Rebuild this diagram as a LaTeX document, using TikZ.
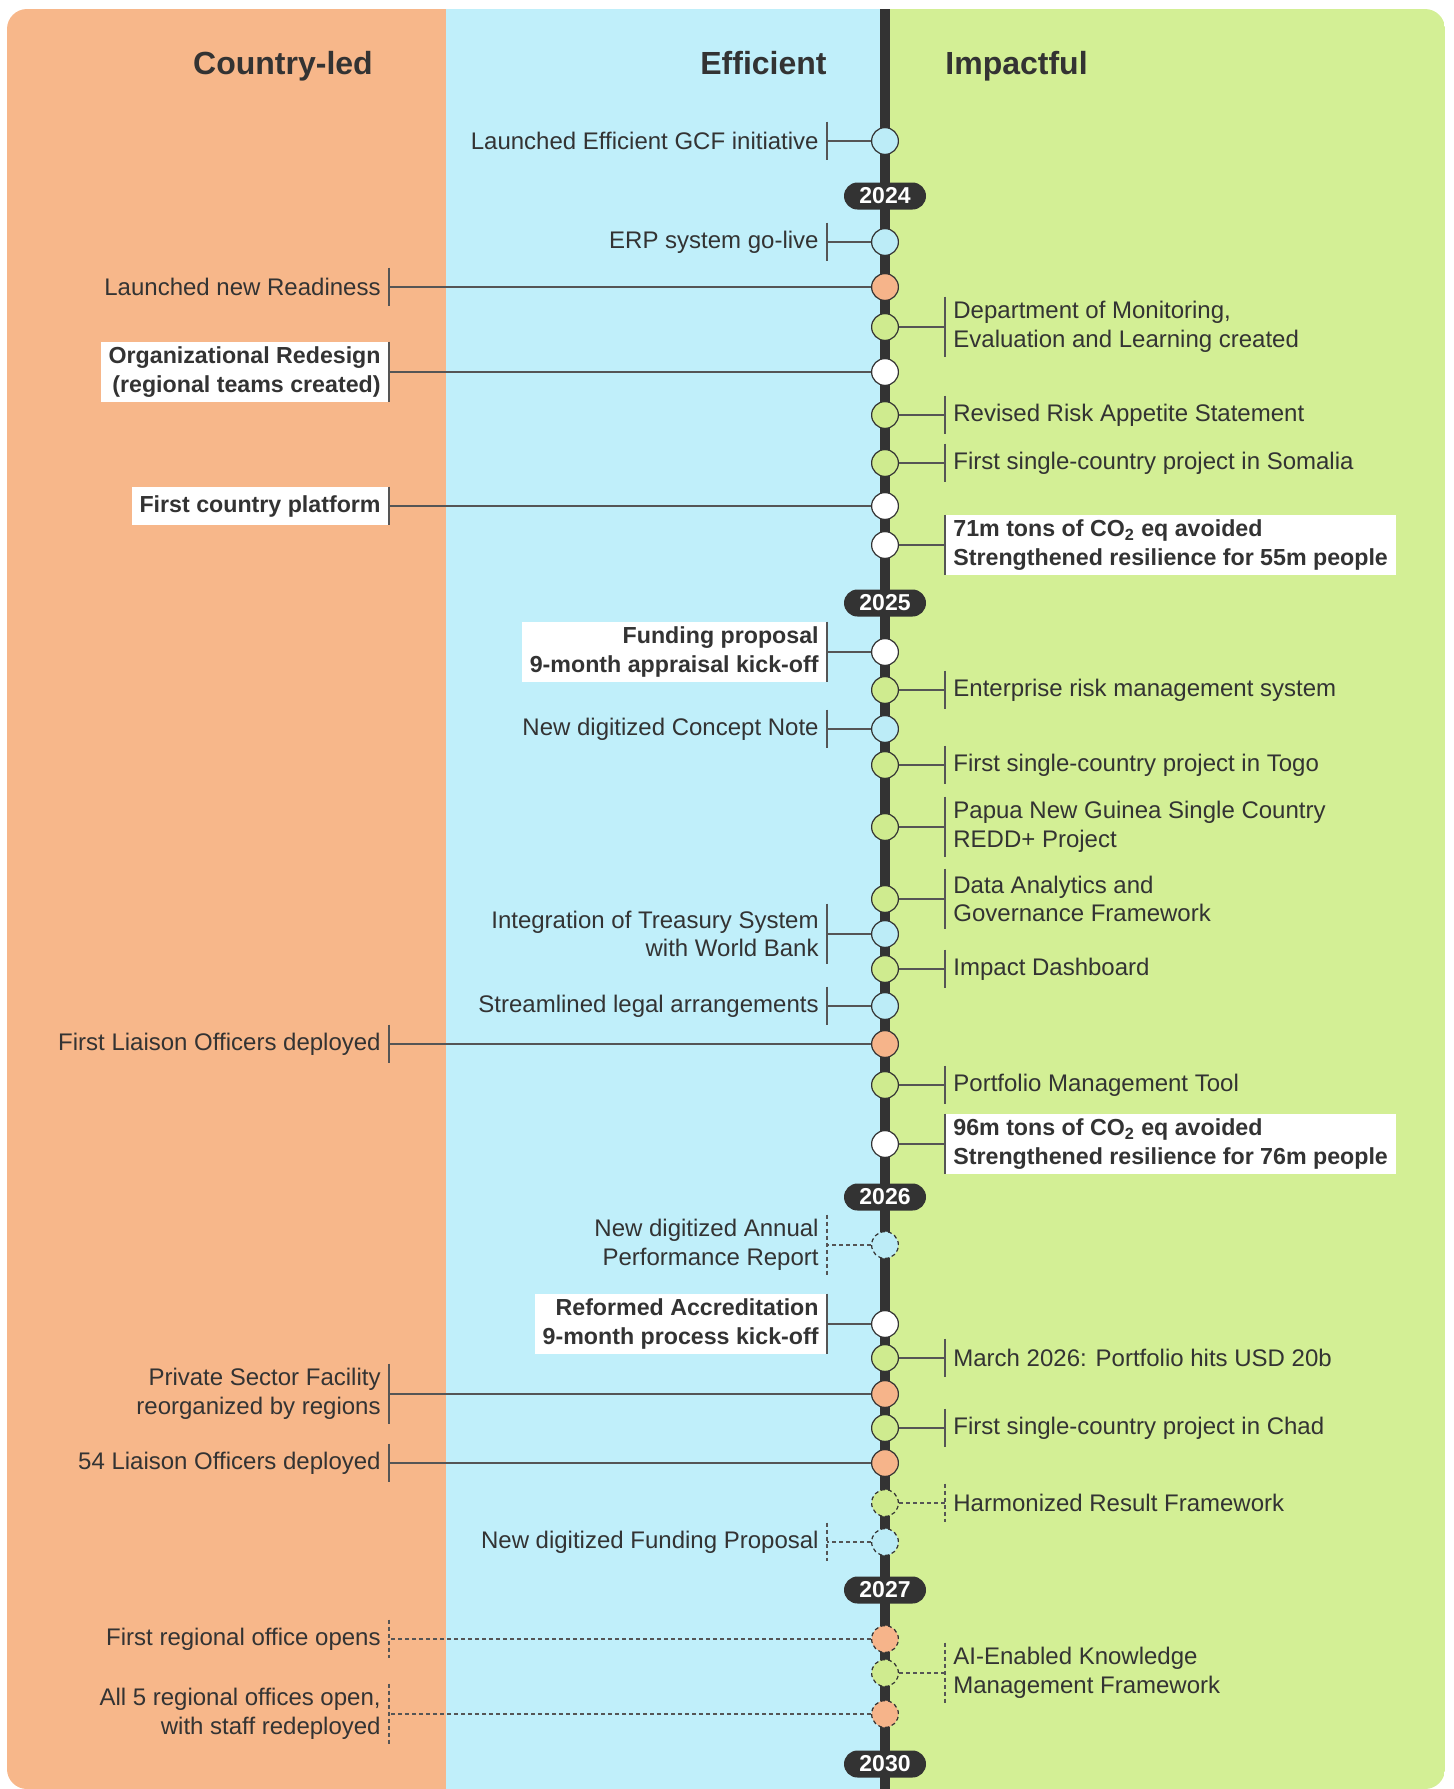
\documentclass[tikz,border=0pt]{standalone}
\usepackage{fontspec}
\setmainfont{Liberation Sans}
\definecolor{orangebg}{HTML}{F7B78A}
\definecolor{bluebg}{HTML}{C0EFFA}
\definecolor{greenbg}{HTML}{D3EF95}
\definecolor{orangedot}{HTML}{F6B48A}
\definecolor{bluedot}{HTML}{BCECF7}
\definecolor{greendot}{HTML}{CFEB8F}
\definecolor{ink}{HTML}{333333}
\definecolor{rule}{HTML}{555555}

\begin{document}
\begin{tikzpicture}[x=0.5pt,y=-0.5pt,
  ev/.style={circle,draw=ink,line width=0.6pt,minimum size=13.4pt,inner sep=0pt},
  con/.style={draw=rule,line width=0.8pt},
  dsh/.style={dash pattern=on 2pt off 1.5pt},
  txt/.style={text=ink,font=\fontsize{12}{14.25}\selectfont,inner xsep=4pt,inner ysep=0pt,minimum height=19pt},
  lt/.style={txt,anchor=east,align=right},
  rt/.style={txt,anchor=west,align=left},
  two/.style={minimum height=30pt},
  box/.style={fill=white,font=\bfseries\fontsize{11.6}{14.25}\selectfont},
  yr/.style={fill=ink,text=white,rounded corners=6.75pt,minimum width=41pt,minimum height=13.5pt,inner sep=0pt,font=\bfseries\fontsize{11.5}{12}\selectfont},
  head/.style={text=ink,font=\bfseries\fontsize{16}{19}\selectfont,inner sep=0pt}]
\useasboundingbox (0,0) rectangle (1453,1789);
\begin{scope}
\clip[rounded corners=10pt] (7,9) rectangle (1445,1789);
\fill[orangebg] (7,9) rectangle (446,1789);
\fill[bluebg] (446,9) rectangle (890,1789);
\fill[greenbg] (890,9) rectangle (1445,1789);
\end{scope}

\node[head,anchor=base] (cled) at (283,74) {Country-led};
\node[head,anchor=base east] (effi) at (827,74) {Efficient};
\node[head,anchor=base west] (impa) at (945,74) {Impactful};

\coordinate (top) at (885,9);
\coordinate (bot) at (885,1789);
\draw[ink,line width=4.7pt] (top) -- (bot);

\node[yr] (y24) at (885,196) {2024};
\node[yr] (y25) at (885,603) {2025};
\node[yr] (y26) at (885,1197) {2026};
\node[yr] (y27) at (885,1590) {2027};
\node[yr] (y30) at (885,1764) {2030};

% 2023--2024
\node[ev,fill=bluedot] (gcf) at (885,141) {};
\node[lt] (gcft) at (827,141) {Launched Efficient GCF initiative};
\draw[con] (gcf) -- (gcft.east) (gcft.north east) -- (gcft.south east);

\node[ev,fill=bluedot] (erp) at (885,242) {};
\node[lt] (erpt) at (827,242) {ERP system go-live};
\draw[con] (erp) -- (erpt.east) (erpt.north east) -- (erpt.south east);

\node[ev,fill=orangedot] (rdns) at (885,287) {};
\node[lt] (rdnst) at (389,287) {Launched new Readiness};
\draw[con] (rdns) -- (rdnst.east) (rdnst.north east) -- (rdnst.south east);

\node[ev,fill=greendot] (mel) at (885,327) {};
\node[rt,two] (melt) at (945,327) {Department of Monitoring,\\Evaluation and Learning created};
\draw[con] (mel) -- (melt.west) (melt.north west) -- (melt.south west);

\node[ev,fill=white] (org) at (885,372) {};
\node[lt,two,box] (orgt) at (389,372) {Organizational Redesign\\(regional teams created)};
\draw[con] (org) -- (orgt.east) (orgt.north east) -- (orgt.south east);

\node[ev,fill=greendot] (risk) at (885,415) {};
\node[rt] (riskt) at (945,415) {Revised Risk Appetite Statement};
\draw[con] (risk) -- (riskt.west) (riskt.north west) -- (riskt.south west);

\node[ev,fill=greendot] (som) at (885,463) {};
\node[rt] (somt) at (945,463) {First single-country project in Somalia};
\draw[con] (som) -- (somt.west) (somt.north west) -- (somt.south west);

\node[ev,fill=white] (cplat) at (885,506) {};
\node[lt,box] (cplatt) at (389,506) {First country platform};
\draw[con] (cplat) -- (cplatt.east) (cplatt.north east) -- (cplatt.south east);

\node[ev,fill=white] (co71) at (885,545) {};
\node[rt,two,box] (co71t) at (945,545) {71m tons of CO\textsubscript{2} eq avoided\\Strengthened resilience for 55m people};
\draw[con] (co71) -- (co71t.west) (co71t.north west) -- (co71t.south west);

% 2025
\node[ev,fill=white] (fp) at (885,652) {};
\node[lt,two,box] (fpt) at (827,652) {Funding proposal\\9-month appraisal kick-off};
\draw[con] (fp) -- (fpt.east) (fpt.north east) -- (fpt.south east);

\node[ev,fill=greendot] (erm) at (885,690) {};
\node[rt] (ermt) at (945,690) {Enterprise risk management system};
\draw[con] (erm) -- (ermt.west) (ermt.north west) -- (ermt.south west);

\node[ev,fill=bluedot] (cn) at (885,729) {};
\node[lt] (cnt) at (827,729) {New digitized Concept Note};
\draw[con] (cn) -- (cnt.east) (cnt.north east) -- (cnt.south east);

\node[ev,fill=greendot] (togo) at (885,765) {};
\node[rt] (togot) at (945,765) {First single-country project in Togo};
\draw[con] (togo) -- (togot.west) (togot.north west) -- (togot.south west);

\node[ev,fill=greendot] (png) at (885,827) {};
\node[rt,two] (pngt) at (945,827) {Papua New Guinea Single Country\\REDD+ Project};
\draw[con] (png) -- (pngt.west) (pngt.north west) -- (pngt.south west);

\node[ev,fill=greendot] (data) at (885,899) {};
\node[rt,two] (datat) at (945,899) {Data Analytics and\\Governance Framework};
\draw[con] (data) -- (datat.west) (datat.north west) -- (datat.south west);

\node[ev,fill=bluedot] (trs) at (885,934) {};
\node[lt,two] (trst) at (827,934) {Integration of Treasury System\\with World Bank};
\draw[con] (trs) -- (trst.east) (trst.north east) -- (trst.south east);

\node[ev,fill=greendot] (dash) at (885,969) {};
\node[rt] (dasht) at (945,969) {Impact Dashboard};
\draw[con] (dash) -- (dasht.west) (dasht.north west) -- (dasht.south west);

\node[ev,fill=bluedot] (legal) at (885,1006) {};
\node[lt] (legalt) at (827,1006) {Streamlined legal arrangements};
\draw[con] (legal) -- (legalt.east) (legalt.north east) -- (legalt.south east);

\node[ev,fill=orangedot] (lo1) at (885,1044) {};
\node[lt] (lo1t) at (389,1044) {First Liaison Officers deployed};
\draw[con] (lo1) -- (lo1t.east) (lo1t.north east) -- (lo1t.south east);

\node[ev,fill=greendot] (pmt) at (885,1085) {};
\node[rt] (pmtt) at (945,1085) {Portfolio Management Tool};
\draw[con] (pmt) -- (pmtt.west) (pmtt.north west) -- (pmtt.south west);

\node[ev,fill=white] (co96) at (885,1144) {};
\node[rt,two,box] (co96t) at (945,1144) {96m tons of CO\textsubscript{2} eq avoided\\Strengthened resilience for 76m people};
\draw[con] (co96) -- (co96t.west) (co96t.north west) -- (co96t.south west);

% 2026
\node[ev,fill=bluedot,dsh] (apr) at (885,1245) {};
\node[lt,two] (aprt) at (827,1245) {New digitized Annual\\Performance Report};
\draw[con,dsh] (apr) -- (aprt.east) (aprt.north east) -- (aprt.south east);

\node[ev,fill=white] (acc) at (885,1324) {};
\node[lt,two,box] (acct) at (827,1324) {Reformed Accreditation\\9-month process kick-off};
\draw[con] (acc) -- (acct.east) (acct.north east) -- (acct.south east);

\node[ev,fill=greendot] (usd) at (885,1358) {};
\node[rt] (usdt) at (945,1358) {March 2026: Portfolio hits USD 20b};
\draw[con] (usd) -- (usdt.west) (usdt.north west) -- (usdt.south west);

\node[ev,fill=orangedot] (psf) at (885,1394) {};
\node[lt,two] (psft) at (389,1394) {Private Sector Facility\\reorganized by regions};
\draw[con] (psf) -- (psft.east) (psft.north east) -- (psft.south east);

\node[ev,fill=greendot] (chad) at (885,1428) {};
\node[rt] (chadt) at (945,1428) {First single-country project in Chad};
\draw[con] (chad) -- (chadt.west) (chadt.north west) -- (chadt.south west);

\node[ev,fill=orangedot] (lo54) at (885,1463) {};
\node[lt] (lo54t) at (389,1463) {54 Liaison Officers deployed};
\draw[con] (lo54) -- (lo54t.east) (lo54t.north east) -- (lo54t.south east);

\node[ev,fill=greendot,dsh] (hrf) at (885,1503) {};
\node[rt] (hrft) at (945,1503) {Harmonized Result Framework};
\draw[con,dsh] (hrf) -- (hrft.west) (hrft.north west) -- (hrft.south west);

\node[ev,fill=bluedot,dsh] (dfp) at (885,1542) {};
\node[lt] (dfpt) at (827,1542) {New digitized Funding Proposal};
\draw[con,dsh] (dfp) -- (dfpt.east) (dfpt.north east) -- (dfpt.south east);

% 2027--2030
\node[ev,fill=orangedot,dsh] (ro1) at (885,1639) {};
\node[lt] (ro1t) at (389,1639) {First regional office opens};
\draw[con,dsh] (ro1) -- (ro1t.east) (ro1t.north east) -- (ro1t.south east);

\node[ev,fill=greendot,dsh] (ai) at (885,1673) {};
\node[rt,two] (ait) at (945,1673) {AI-Enabled Knowledge\\Management Framework};
\draw[con,dsh] (ai) -- (ait.west) (ait.north west) -- (ait.south west);

\node[ev,fill=orangedot,dsh] (ro5) at (885,1714) {};
\node[lt,two] (ro5t) at (389,1714) {All 5 regional offices open,\\with staff redeployed};
\draw[con,dsh] (ro5) -- (ro5t.east) (ro5t.north east) -- (ro5t.south east);
\end{tikzpicture}
\end{document}
